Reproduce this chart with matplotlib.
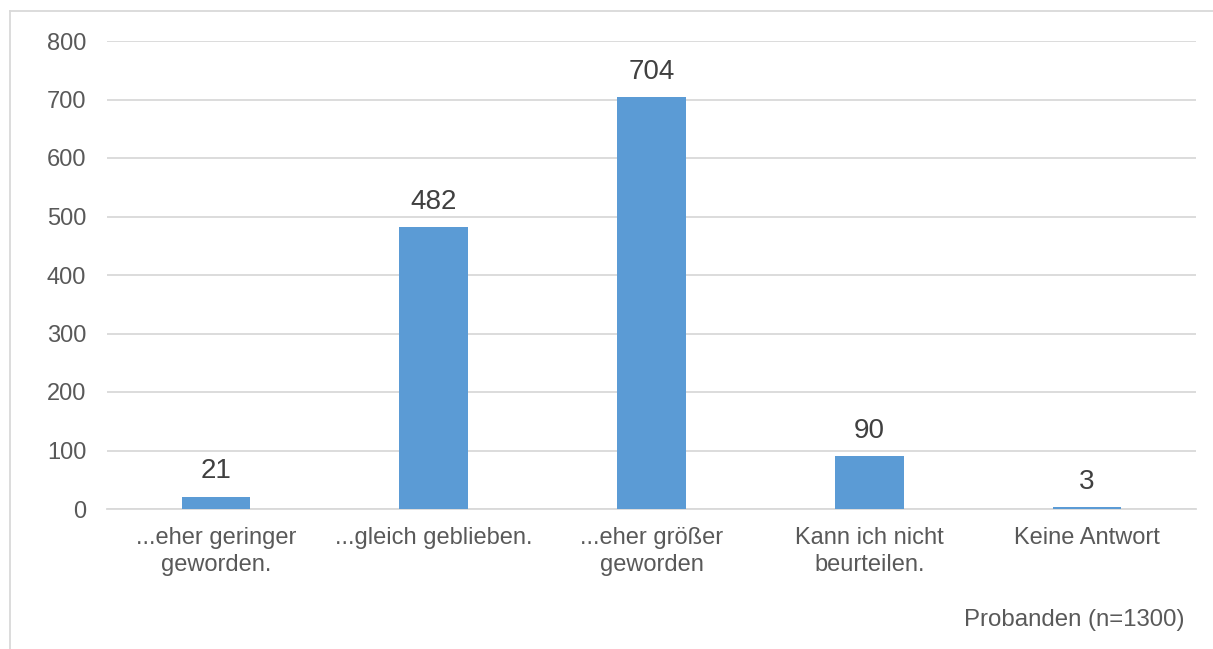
import matplotlib
matplotlib.use("Agg")
import matplotlib.pyplot as plt
from matplotlib.lines import Line2D

categories = ["...eher geringer\ngeworden.", "...gleich geblieben.", "...eher größer\ngeworden",
              "Kann ich nicht\nbeurteilen.", "Keine Antwort"]
values = [21, 482, 704, 90, 3]
yticks = [0, 100, 200, 300, 400, 500, 600, 700, 800]
footnote = "Probanden (n=1300)"

plt.rcParams['font.family'] = ['Liberation Sans', 'DejaVu Sans']

W, H = 1213, 649
fig = plt.figure(figsize=(W / 100, H / 100), dpi=100)
ax = fig.add_axes([107 / W, 1 - 509 / H, (1196 - 107) / W, (509 - 41) / H])

x = list(range(len(categories)))
bars = ax.bar(x, values, width=0.315, color="#5B9BD5", zorder=3)
ax.set_xlim(-0.5, len(categories) - 0.5)
ax.set_ylim(0, 800)
ax.set_yticks(yticks)
ax.set_yticklabels([str(t) for t in yticks])
ax.set_xticks(x)
ax.set_xticklabels(categories, linespacing=1.3)
ax.yaxis.grid(True, color="#D9D9D9", linewidth=1.3, zorder=0)
ax.set_axisbelow(True)
for s in ["top", "right", "left"]:
    ax.spines[s].set_visible(False)
ax.spines["bottom"].set_color("#D9D9D9")
ax.spines["bottom"].set_linewidth(1.3)
ax.tick_params(axis="both", length=0, colors="#595959", labelsize=17)
ax.tick_params(axis="y", pad=15)
ax.tick_params(axis="x", pad=13)

for xi, v in zip(x, values):
    ax.annotate(str(v), (xi, v), xytext=(0, 9), textcoords="offset points",
                ha="center", va="bottom", fontsize=20, color="#404040")

fig.text(1185 / W, 1 - 620 / H, footnote, ha="right", va="center", fontsize=17.3, color="#595959")

# outer frame (left and top visible)
fig.add_artist(Line2D([10 / W, 10 / W], [0, 1 - 11 / H], transform=fig.transFigure, color="#D9D9D9", linewidth=1.3))
fig.add_artist(Line2D([10 / W, 1], [1 - 11 / H, 1 - 11 / H], transform=fig.transFigure, color="#D9D9D9", linewidth=1.3))

fig.savefig("out.png", dpi=100)
